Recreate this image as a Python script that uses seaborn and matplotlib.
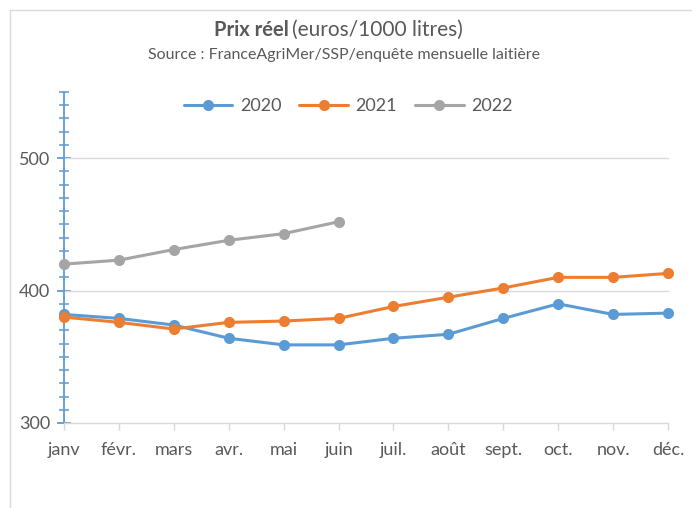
import numpy as np
import pandas as pd
import matplotlib.pyplot as plt
import seaborn as sns
from matplotlib.patches import Rectangle
from matplotlib.lines import Line2D
from matplotlib.ticker import MultipleLocator

# -------------------------
# DATA
# -------------------------
months = ["janv", "févr.", "mars", "avr.", "mai", "juin",
          "juil.", "août", "sept.", "oct.", "nov.", "déc."]
years = ["2020", "2021", "2022"]
prix_2020 = [382, 379, 374, 364, 359, 359, 364, 367, 379, 390, 382, 383]
prix_2021 = [380, 376, 371, 376, 377, 379, 388, 395, 402, 410, 410, 413]
prix_2022 = [420, 423, 431, 438, 443, 452]

colors = {"2020": "#5B9BD5", "2021": "#ED7D31", "2022": "#A5A5A5"}
text_col = "#595959"

# long-form table for seaborn
rows = []
for yr, vals in zip(years, [prix_2020, prix_2021, prix_2022]):
    for i, v in enumerate(vals):
        rows.append({"mois": i, "annee": yr, "prix": v})
df = pd.DataFrame(rows)

# -------------------------
# FIGURE
# -------------------------
sns.set_style("white")
plt.rcParams["font.family"] = ["Lato", "DejaVu Sans"]

fig = plt.figure(figsize=(6.92, 5.08), dpi=100)
ax = fig.add_axes([64 / 692, 85 / 508, (668 - 64) / 692, (423 - 92) / 508])

# chart area border
fig.add_artist(Rectangle((10 / 692, -0.1), 1.2, 1.1 - 10 / 508, transform=fig.transFigure,
                         fill=False, edgecolor="#D9D9D9", linewidth=1))

sns.lineplot(data=df, x="mois", y="prix", hue="annee", palette=colors,
             marker="o", markersize=8, markeredgewidth=0, linewidth=2.2,
             ax=ax, legend=False, zorder=3)

ax.set_xlim(0, 11)
ax.set_ylim(300, 550)
ax.set_xticks(range(len(months)))
ax.set_xticklabels(months)
ax.yaxis.set_major_locator(MultipleLocator(100))
ax.yaxis.set_minor_locator(MultipleLocator(10))
ax.set_yticks([300, 400, 500])
ax.set_xlabel("")
ax.set_ylabel("")

# gridlines at major values
for v in [400, 500]:
    ax.axhline(v, color="#D9D9D9", linewidth=1, zorder=1)

for s in ["top", "right"]:
    ax.spines[s].set_visible(False)
ax.spines["left"].set_color("#5B9BD5")
ax.spines["left"].set_linewidth(1.3)
ax.spines["left"].set_zorder(2)
ax.spines["bottom"].set_color("#D9D9D9")
ax.spines["bottom"].set_linewidth(1)

ax.tick_params(axis="y", which="major", left=True, direction="inout", length=10, width=1.3,
               color="#5B9BD5", labelsize=13, labelcolor=text_col, pad=5)
ax.tick_params(axis="y", which="minor", left=True, direction="inout", length=7, width=1.1,
               color="#5B9BD5")
ax.tick_params(axis="x", which="major", bottom=True, direction="out", length=5, width=1,
               color="#D9D9D9", labelsize=13, labelcolor=text_col, pad=9)
for line in ax.lines:
    line.set_clip_on(False)

# title and subtitle
fig.text(289 / 692, 1 - 30 / 508, "Prix réel", ha="right", va="center",
         fontsize=14.5, fontweight="bold", color=text_col)
fig.text(292 / 692, 1 - 30 / 508, "(euros/1000 litres)", ha="left", va="center",
         fontsize=15, color=text_col)
fig.text(344 / 692, 1 - 55 / 508, "Source : FranceAgriMer/SSP/enquête mensuelle laitière",
         ha="center", va="center", fontsize=11.5, color=text_col)

# legend
handles = [Line2D([0], [0], color=colors[y], linewidth=2.2, marker="o",
                  markersize=8, markeredgewidth=0) for y in years]
fig.legend(handles, years, loc="center", bbox_to_anchor=(348 / 692, 1 - 106 / 508),
           ncol=3, frameon=False, fontsize=13, labelcolor=text_col,
           handlelength=2.7, columnspacing=1.0, handletextpad=0.4)

fig.savefig("out.png", dpi=100)
